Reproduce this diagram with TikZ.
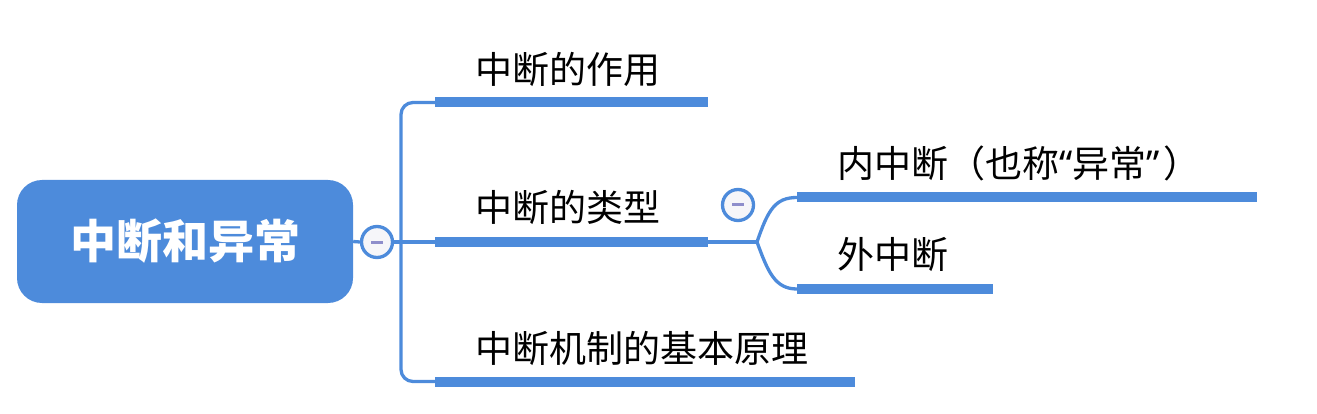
\documentclass[tikz,border=0pt]{standalone}
\usepackage{fontspec}
\newfontfamily\cjk{Noto Sans CJK SC}
\newfontfamily\latq{Noto Sans}
\definecolor{mb}{HTML}{4D8BDB}
\definecolor{minusc}{HTML}{8E8ECB}
\definecolor{foldfill}{HTML}{F6F6F9}
\tikzset{
  topic/.style={anchor=west, inner sep=0pt, font=\cjk\fontsize{37}{40}\selectfont, text=black},
  bar/.style={line width=10pt, mb},
  link/.style={line width=3.3pt, mb},
  fold/.style={circle, draw=mb, line width=3.3pt, fill=foldfill, minimum size=31pt, inner sep=0pt},
  rootbox/.style={rounded corners=25pt, fill=mb, minimum width=336pt, minimum height=123pt, inner sep=0pt, text=white, font=\cjk\bfseries\fontsize{46}{50}\selectfont},
  minus/.style={line width=3pt, minusc}
}
\begin{document}
\begin{tikzpicture}[x=1pt,y=-1pt]
\useasboundingbox (0,0) rectangle (1317,414);
% root
\node[rootbox] (root) at (185,241.5) {中断和异常};
\node[fold] (f1) at (377,242) {};
\draw[minus] ([xshift=-6pt]f1.center) -- ([xshift=6pt]f1.center);
\node[fold] (f2) at (738,205) {};
\draw[minus] ([xshift=-6pt]f2.center) -- ([xshift=6pt]f2.center);
% bars
\coordinate (a1) at (435,102.5); \coordinate (a1e) at (708,102.5);
\coordinate (a2) at (435,242); \coordinate (a2e) at (708,242);
\coordinate (a3) at (435,381.5); \coordinate (a3e) at (855,381.5);
\coordinate (b1) at (797,197.5); \coordinate (b1e) at (1257,197.5);
\coordinate (b2) at (797,289); \coordinate (b2e) at (993,289);
\coordinate (j) at (757,242);
\draw[bar] (a1) -- (a1e);
\draw[bar] (a2) -- (a2e);
\draw[bar] (a3) -- (a3e);
\draw[bar] (b1) -- (b1e);
\draw[bar] (b2) -- (b2e);
% connectors
\draw[link] (root.east) -- (f1.west);
\draw[link] (f1.east) -- (a2);
\draw[link, rounded corners=12pt] (a1) -- (401,102.5) -- (401,381.5) -- (a3);
\draw[link] (a2e) -- (j);
\draw[link] (j) .. controls (768,210) and (775,197.5) .. (b1);
\draw[link] (j) .. controls (768,272) and (775,289) .. (b2);
% labels
\node[topic] (t1) at (475,69) {中断的作用};
\node[topic] (t2) at (475,207) {中断的类型};
\node[topic] (t3) at (475,348) {中断机制的基本原理};
\node[topic] (t4) at (837,163) {内中断（也称{\latq “}异常{\latq ”}\hspace{0.1em}）};
\node[topic] (t5) at (837,254) {外中断};
\end{tikzpicture}
\end{document}
